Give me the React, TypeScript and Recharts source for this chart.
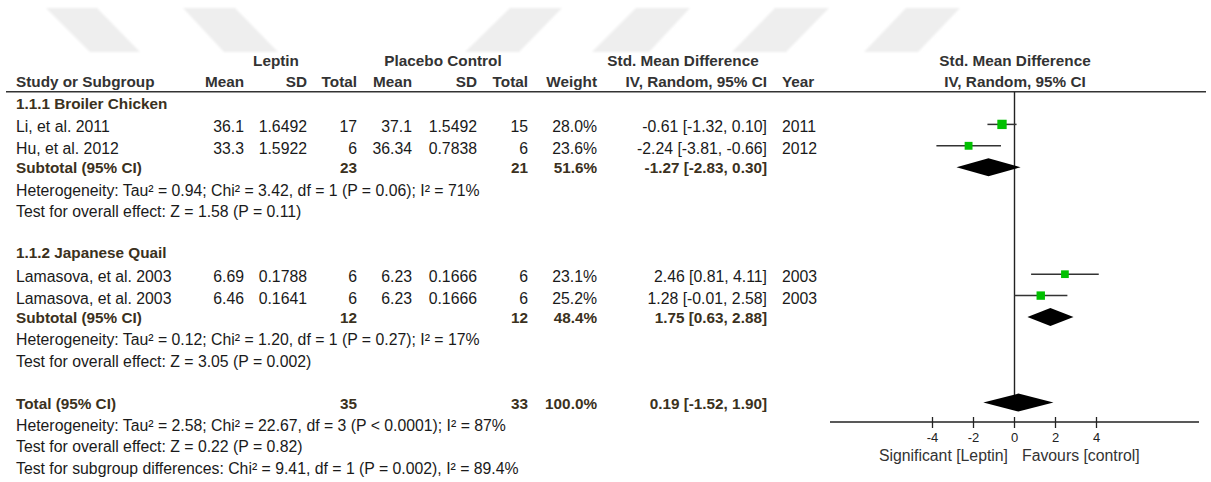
import React from 'react';
import { ComposedChart, Scatter, XAxis, YAxis, ReferenceLine, ErrorBar } from 'recharts';

// study level data
const studyNames = ['Li, et al. 2011', 'Hu, et al. 2012', 'Lamasova, et al. 2003', 'Lamasova, et al. 2003'];
const studyGroup = [0, 0, 1, 1];
const leptinMean = [36.1, 33.3, 6.69, 6.46];
const leptinSD = [1.6492, 1.5922, 0.1788, 0.1641];
const leptinN = [17, 6, 6, 6];
const placeboMean = [37.1, 36.34, 6.23, 6.23];
const placeboSD = [1.5492, 0.7838, 0.1666, 0.1666];
const placeboN = [15, 6, 6, 6];
const studyWeight = [28.0, 23.6, 23.1, 25.2];
const studySMD = [-0.61, -2.24, 2.46, 1.28];
const studyLow = [-1.32, -3.81, 0.81, -0.01];
const studyHigh = [0.1, -0.66, 4.11, 2.58];
const studyYear = [2011, 2012, 2003, 2003];

// subgroups
const groupNames = ['1.1.1 Broiler Chicken', '1.1.2 Japanese Quail'];
const groupLeptinN = [23, 12];
const groupPlaceboN = [21, 12];
const groupWeight = [51.6, 48.4];
const groupSMD = [-1.27, 1.75];
const groupLow = [-2.83, 0.63];
const groupHigh = [0.3, 2.88];
const groupHet = [
  'Heterogeneity: Tau² = 0.94; Chi² = 3.42, df = 1 (P = 0.06); I² = 71%',
  'Heterogeneity: Tau² = 0.12; Chi² = 1.20, df = 1 (P = 0.27); I² = 17%',
];
const groupEffect = ['Test for overall effect: Z = 1.58 (P = 0.11)', 'Test for overall effect: Z = 3.05 (P = 0.002)'];

// overall
const totalLeptinN = 35;
const totalPlaceboN = 33;
const totalWeight = 100.0;
const totalSMD = 0.19;
const totalLow = -1.52;
const totalHigh = 1.9;
const totalNotes = [
  'Heterogeneity: Tau² = 2.58; Chi² = 22.67, df = 3 (P < 0.0001); I² = 87%',
  'Test for overall effect: Z = 0.22 (P = 0.82)',
  'Test for subgroup differences: Chi² = 9.41, df = 1 (P = 0.002), I² = 89.4%',
];

const xTicks = [-4, -2, 0, 2, 4];
const xDomain = [-9, 9];

const FONT = '"Liberation Sans", Arial, sans-serif';
const ROW0 = 103;
const ROW_H = 21.4;
const rowY = (r: number) => ROW0 + ROW_H * r;

type Row = { kind: 'group' | 'study' | 'subtotal' | 'note' | 'total'; r: number; i?: number; text?: string };
const rows: Row[] = [];
let rr = 0;
groupNames.forEach((g, gi) => {
  rows.push({ kind: 'group', r: rr++, text: g });
  studyNames.forEach((_, si) => {
    if (studyGroup[si] === gi) rows.push({ kind: 'study', r: rr++, i: si });
  });
  rows.push({ kind: 'subtotal', r: rr++, i: gi });
  rows.push({ kind: 'note', r: rr++, text: groupHet[gi] });
  rows.push({ kind: 'note', r: rr++, text: groupEffect[gi] });
  rr++;
});
rows.push({ kind: 'total', r: rr++ });
totalNotes.forEach((t) => rows.push({ kind: 'note', r: rr++, text: t }));

const ci = (m: number, lo: number, hi: number) => `${m.toFixed(2)} [${lo.toFixed(2)}, ${hi.toFixed(2)}]`;

const studyPoints = rows
  .filter((row) => row.kind === 'study')
  .map((row) => {
    const i = row.i as number;
    return { x: studySMD[i], y: row.r, w: studyWeight[i], err: [studySMD[i] - studyLow[i], studyHigh[i] - studySMD[i]] };
  });

const diamondOf = (r: number, m: number, lo: number, hi: number) => [
  { x: lo, y: r },
  { x: m, y: r - 0.42 },
  { x: hi, y: r },
  { x: m, y: r + 0.42 },
];
const diamonds = rows
  .filter((row) => row.kind === 'subtotal' || row.kind === 'total')
  .map((row) =>
    row.kind === 'total'
      ? diamondOf(row.r, totalSMD, totalLow, totalHigh)
      : diamondOf(row.r, groupSMD[row.i as number], groupLow[row.i as number], groupHigh[row.i as number])
  );
const zeroLineEnd = rows.find((row) => row.kind === 'total')!.r + 0.25;

const Square = (props: any) => {
  const s = props.payload.w / 3;
  return <rect x={props.cx - s / 2} y={props.cy - s / 2} width={s} height={s} fill="#00c000" />;
};
const Nothing = () => <g />;
const DiamondShape = (props: any) => (
  <polygon points={props.points.map((p: any) => `${p.x},${p.y}`).join(' ')} fill="#000" />
);

const AxisTick = ({ x, y, payload }: any) => (
  <g>
    <line x1={x} x2={x} y1={y - 5} y2={y + 6} stroke="#222" strokeWidth={1.3} />
    <text x={x} y={y + 15} textAnchor="middle" dominantBaseline="central" fontSize={13} fontFamily={FONT} fill="#222">
      {payload.value}
    </text>
  </g>
);

const TXT = '#1a1a1a';
const HEAD = '#333';
const SUB = '#3b3120';

function Table() {
  const t = (x: number, y: number, s: string | number, anchor: 'start' | 'end' | 'middle' = 'end', bold = false, fill = TXT, key?: string) => (
    <text key={key} x={x} y={y} textAnchor={anchor} dominantBaseline="central" fontFamily={FONT}
      fontSize={bold ? 15.3 : 15.8} fontWeight={bold ? 'bold' : 'normal'} fill={fill}>
      {s}
    </text>
  );
  return (
    <g>
      {t(276, 60.7, 'Leptin', 'middle', true, HEAD)}
      {t(443, 60.7, 'Placebo Control', 'middle', true, HEAD)}
      {t(683, 60.7, 'Std. Mean Difference', 'middle', true, HEAD)}
      {t(1015, 60.7, 'Std. Mean Difference', 'middle', true, HEAD)}
      {t(16, 81.7, 'Study or Subgroup', 'start', true, HEAD)}
      {t(244, 81.7, 'Mean', 'end', true, HEAD)}
      {t(307, 81.7, 'SD', 'end', true, HEAD)}
      {t(357, 81.7, 'Total', 'end', true, HEAD)}
      {t(412, 81.7, 'Mean', 'end', true, HEAD)}
      {t(477, 81.7, 'SD', 'end', true, HEAD)}
      {t(528, 81.7, 'Total', 'end', true, HEAD)}
      {t(597, 81.7, 'Weight', 'end', true, HEAD)}
      {t(767, 81.7, 'IV, Random, 95% CI', 'end', true, HEAD)}
      {t(782, 81.7, 'Year', 'start', true, HEAD)}
      {t(1015, 81.7, 'IV, Random, 95% CI', 'middle', true, HEAD)}
      <line x1={6} x2={1206} y1={91.7} y2={91.7} stroke="#333" strokeWidth={1.6} />
      {rows.map((row) => {
        const k = `r${row.r}`;
        if (row.kind === 'group') return <g key={k}>{t(16, rowY(row.r), row.text as string, 'start', true, SUB)}</g>;
        if (row.kind === 'note') return <g key={k}>{t(16, rowY(row.r) + 1.5, row.text as string, 'start')}</g>;
        if (row.kind === 'study') {
          const i = row.i as number;
          const y = rowY(row.r) + 2.5;
          return (
            <g key={k}>
              {t(16, y, studyNames[i], 'start')}
              {t(244, y, leptinMean[i])}
              {t(307, y, leptinSD[i])}
              {t(357, y, leptinN[i])}
              {t(412, y, placeboMean[i])}
              {t(477, y, placeboSD[i])}
              {t(528, y, placeboN[i])}
              {t(597, y, studyWeight[i].toFixed(1) + '%')}
              {t(767, y, ci(studySMD[i], studyLow[i], studyHigh[i]))}
              {t(782, y, studyYear[i], 'start')}
            </g>
          );
        }
        const isTotal = row.kind === 'total';
        const gi = row.i as number;
        const y = rowY(row.r) + 0.5;
        return (
          <g key={k}>
            {t(16, y, isTotal ? 'Total (95% CI)' : 'Subtotal (95% CI)', 'start', true, SUB)}
            {t(357, y, isTotal ? totalLeptinN : groupLeptinN[gi], 'end', true, SUB)}
            {t(528, y, isTotal ? totalPlaceboN : groupPlaceboN[gi], 'end', true, SUB)}
            {t(597, y, (isTotal ? totalWeight : groupWeight[gi]).toFixed(1) + '%', 'end', true, SUB)}
            {t(767, y, isTotal ? ci(totalSMD, totalLow, totalHigh) : ci(groupSMD[gi], groupLow[gi], groupHigh[gi]), 'end', true, SUB)}
          </g>
        );
      })}
      {t(1008, 455, 'Significant [Leptin]', 'end', false, HEAD)}
      {t(1022, 455, 'Favours [control]', 'start', false, HEAD)}
    </g>
  );
}

function Watermark() {
  const polys = [
    '46,8 97,8 140,52 90,52',
    '183,8 235,8 278,52 224,52',
    '510,8 562,8 519,52 465,52',
    '636,8 690,8 649,52 592,52',
    '775,8 829,8 786,52 732,52',
    '906,8 960,8 918,52 864,52',
  ];
  return (
    <g filter="url(#wmBlur)">
      {polys.map((p) => (
        <polygon key={p} points={p} fill="#eeeeee" />
      ))}
    </g>
  );
}

export default function App() {
  return (
    <div style={{ position: 'absolute', left: 0, top: 0, width: 1211, height: 482, background: '#fff', overflow: 'hidden' }}>
      <svg width={1211} height={482} style={{ position: 'absolute', left: 0, top: 0 }}>
        <defs>
          <filter id="wmBlur" x="-10%" y="-10%" width="120%" height="120%">
            <feGaussianBlur stdDeviation="1.2" />
          </filter>
        </defs>
        <Watermark />
        <Table />
      </svg>
      <div style={{ position: 'absolute', left: 0, top: 0 }}>
        <ComposedChart width={1211} height={482} margin={{ top: 92, right: 12, bottom: 30, left: 830 }}>
          <XAxis
            type="number"
            dataKey="x"
            domain={xDomain}
            ticks={xTicks}
            height={30}
            axisLine={{ stroke: '#222', strokeWidth: 1.4 }}
            tickLine={false}
            tickSize={0}
            tickMargin={0}
            tick={<AxisTick />}
            allowDataOverflow
          />
          <YAxis type="number" dataKey="y" hide reversed domain={[-0.514, 14.907]} allowDataOverflow />
          <ReferenceLine
            segment={[
              { x: 0, y: -0.514 },
              { x: 0, y: zeroLineEnd },
            ]}
            stroke="#222"
            strokeWidth={1.4}
          />
          {diamonds.map((d, di) => (
            <Scatter key={`d${di}`} data={d} shape={<Nothing />} line={DiamondShape} lineType="joint" isAnimationActive={false} />
          ))}
          <Scatter data={studyPoints} shape={<Square />} isAnimationActive={false}>
            <ErrorBar dataKey="err" direction="x" width={0} stroke="#333" strokeWidth={1.5} />
          </Scatter>
        </ComposedChart>
      </div>
    </div>
  );
}
